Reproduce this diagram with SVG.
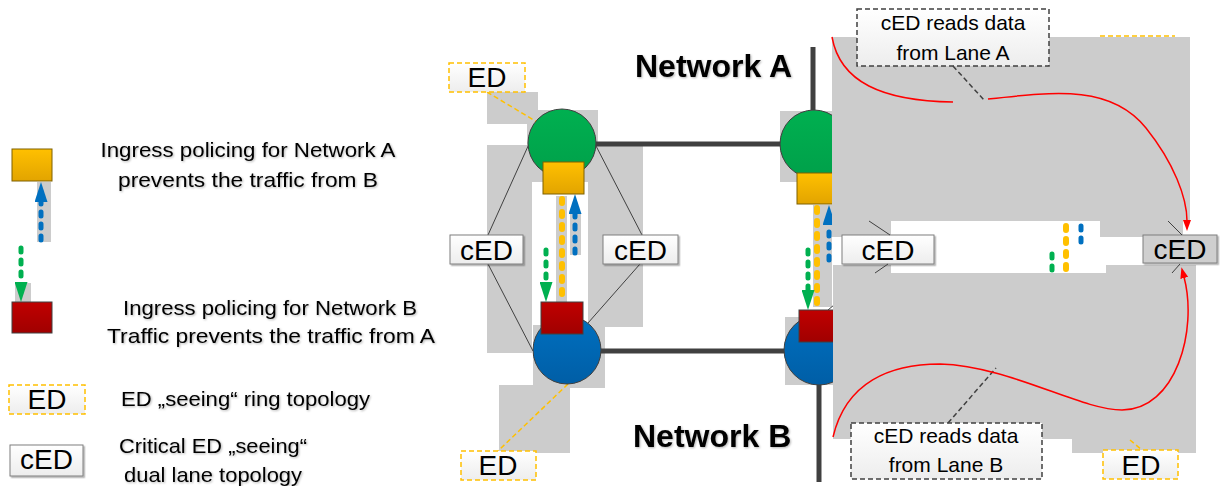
<svg xmlns="http://www.w3.org/2000/svg" width="1221" height="486" viewBox="0 0 1221 486">
<defs>
<linearGradient id="gYellow" x1="0" y1="0" x2="0" y2="1"><stop offset="0" stop-color="#FFC000"/><stop offset="1" stop-color="#E2A400"/></linearGradient>
<linearGradient id="gRed" x1="0" y1="0" x2="0" y2="1"><stop offset="0" stop-color="#C00000"/><stop offset="1" stop-color="#A00000"/></linearGradient>
<linearGradient id="gGreen" x1="0" y1="0" x2="0" y2="1"><stop offset="0" stop-color="#00B050"/><stop offset="1" stop-color="#00A04A"/></linearGradient>
<linearGradient id="gBlue" x1="0" y1="0" x2="0" y2="1"><stop offset="0" stop-color="#0070C0"/><stop offset="1" stop-color="#005EA6"/></linearGradient>
<linearGradient id="gBox" x1="0" y1="0" x2="0" y2="1"><stop offset="0" stop-color="#FFFFFF"/><stop offset="1" stop-color="#EDEDED"/></linearGradient>
<filter id="tshadow" x="-5%" y="-20%" width="110%" height="140%"><feDropShadow dx="1" dy="1" stdDeviation="0.8" flood-color="#000" flood-opacity="0.3"/></filter>
<filter id="bshadow" x="-5%" y="-10%" width="115%" height="130%"><feDropShadow dx="1.5" dy="1.5" stdDeviation="0.6" flood-color="#000" flood-opacity="0.3"/></filter>
<marker id="mBlue" viewBox="0 0 20 13" refX="0" refY="6.5" markerWidth="20" markerHeight="13" markerUnits="userSpaceOnUse" orient="auto"><path d="M0,0 L20,6.5 L0,13 z" fill="#0070C0"/></marker>
<marker id="mGreen" viewBox="0 0 20 13" refX="0" refY="6.5" markerWidth="20" markerHeight="13" markerUnits="userSpaceOnUse" orient="auto"><path d="M0,0 L20,6.5 L0,13 z" fill="#00B050"/></marker>
<marker id="mRed" viewBox="0 0 11 8" refX="1" refY="4" markerWidth="11" markerHeight="8" markerUnits="userSpaceOnUse" orient="auto"><path d="M0,0 L11,4 L0,8 z" fill="#FF0000"/></marker>
<style>
.gray{fill:#CCCCCC}
.thick{stroke:#404040;stroke-width:5;fill:none}
.thin{stroke:#404040;stroke-width:1;fill:none}
.ydot{stroke:#FFC000;stroke-width:6;stroke-linecap:round;stroke-dasharray:4 9;fill:none}
.bdot{stroke:#0070C0;stroke-width:5;stroke-linecap:round;stroke-dasharray:4 8;fill:none}
.gdot{stroke:#00B050;stroke-width:5;stroke-linecap:round;stroke-dasharray:4 8;fill:none}
.edline{stroke:#FFC000;stroke-width:1.5;stroke-dasharray:5 3;fill:none}
.cline{stroke:#404040;stroke-width:1.5;stroke-dasharray:5 3;fill:none}
.red{stroke:#FF0000;stroke-width:1.5;fill:none}
.edbox{fill:url(#gBox);stroke:#FFC000;stroke-width:1.5;stroke-dasharray:5 3}
.cedbox{fill:url(#gBox);stroke:#7F7F7F;stroke-width:1;filter:url(#bshadow)}
.callout{fill:url(#gBox);stroke:#404040;stroke-width:1.5;stroke-dasharray:5 3}
.ysq{fill:url(#gYellow);stroke:#7F6000;stroke-width:1}
.rsq{fill:url(#gRed);stroke:#404040;stroke-width:1}
.gc{fill:url(#gGreen);stroke:#404040;stroke-width:1}
.bc{fill:url(#gBlue);stroke:#404040;stroke-width:1}
text{font-family:"Liberation Sans",Arial,sans-serif;fill:#000}
.lbl{font-size:28px;text-anchor:middle}
.txt{font-size:21px;filter:url(#tshadow)}
.ctr{text-anchor:middle}
.net{font-size:32px;font-weight:bold;filter:url(#tshadow)}
.ctxt{font-size:21px;text-anchor:middle}
</style>
</defs>

<!-- background shadow boxes -->
<g id="shadows">
<rect class="gray" x="37" y="182" width="14" height="60"/>
<rect class="gray" x="15" y="283" width="16" height="20"/>
<rect class="gray" x="487" y="92" width="51" height="32"/>
<rect class="gray" x="527" y="110" width="71" height="72"/>
<rect class="gray" x="487" y="145" width="45" height="208"/>
<rect class="gray" x="588" y="145" width="55" height="182"/>
<rect class="gray" x="533" y="325" width="72" height="63"/>
<rect class="gray" x="499" y="385" width="71" height="68"/>
<rect class="gray" x="556" y="196" width="11" height="106"/>
<rect class="gray" x="570" y="213" width="11" height="42"/>
<rect class="gray" x="780" y="111" width="52" height="71"/>
<rect class="gray" x="813" y="205" width="19" height="102"/>
<rect class="gray" x="785" y="317" width="49" height="68"/>
</g>

<g id="connectors">
<line class="thick" x1="595" y1="144" x2="782" y2="144"/>
<line class="thick" x1="600" y1="351" x2="787" y2="351"/>
<line class="thick" x1="813" y1="47" x2="813" y2="110"/>
<line class="thick" x1="819" y1="383" x2="819" y2="482"/>
<line class="thin" x1="529" y1="144" x2="488" y2="235"/>
<line class="thin" x1="595" y1="144" x2="642" y2="235"/>
<line class="thin" x1="488" y1="264" x2="533" y2="351"/>
<line class="thin" x1="640" y1="264" x2="588" y2="323"/>
<line class="thin" x1="828" y1="310" x2="834" y2="305"/>
<line class="edline" x1="487" y1="92" x2="537" y2="122"/>
<line class="edline" x1="568" y1="384" x2="498" y2="451"/>
<line class="ydot" x1="562" y1="199" x2="562" y2="300"/>
<line class="bdot" x1="575" y1="253" x2="575" y2="214"  marker-end="url(#mBlue)"/>
<line class="gdot" x1="546" y1="250" x2="546" y2="282" marker-end="url(#mGreen)"/>
<line class="ydot" x1="817" y1="208" x2="817" y2="310"/>
<line class="bdot" x1="829" y1="260" x2="829" y2="225" marker-end="url(#mBlue)"/>
<line class="gdot" x1="808" y1="250" x2="808" y2="290" marker-end="url(#mGreen)"/>
<line class="ydot" x1="1066" y1="226" x2="1066" y2="272"/>
<line class="bdot" x1="1081" y1="226" x2="1081" y2="250"/>
<line class="gdot" x1="1052" y1="254" x2="1052" y2="272"/>
<line class="bdot" x1="41" y1="240" x2="41" y2="202" marker-end="url(#mBlue)"/>
<line class="gdot" x1="21" y1="248" x2="21" y2="282" marker-end="url(#mGreen)"/>
</g>

<!-- legend -->
<g id="legend-ingressA">
<rect class="ysq" x="12" y="149" width="40" height="32"/>
<text class="txt ctr" x="248" y="157" textLength="295" lengthAdjust="spacingAndGlyphs">Ingress policing for Network A</text>
<text class="txt ctr" x="248" y="187" textLength="260" lengthAdjust="spacingAndGlyphs">prevents the traffic from B</text>
</g>
<g id="legend-ingressB">
<rect class="rsq" x="12" y="302" width="40" height="31"/>
<text class="txt ctr" x="270" y="315" textLength="294" lengthAdjust="spacingAndGlyphs">Ingress policing for Network B</text>
<text class="txt ctr" x="271" y="343" textLength="328" lengthAdjust="spacingAndGlyphs">Traffic prevents the traffic from A</text>
</g>
<g id="legend-ed">
<rect class="edbox" x="9" y="385" width="76" height="29"/>
<text class="lbl" x="47" y="409">ED</text>
<text class="txt" x="121" y="406" textLength="249" lengthAdjust="spacingAndGlyphs">ED „seeing“ ring topology</text>
</g>
<g id="legend-ced">
<rect class="cedbox" x="10" y="445" width="73" height="31"/>
<text class="lbl" x="46.5" y="469">cED</text>
<text class="txt ctr" x="213" y="453" textLength="188" lengthAdjust="spacingAndGlyphs">Critical ED „seeing“</text>
<text class="txt ctr" x="213" y="482" textLength="178" lengthAdjust="spacingAndGlyphs">dual lane topology</text>
</g>

<!-- left ring -->
<g id="switchA1"><circle class="gc" cx="562" cy="143" r="34"/><rect class="ysq" x="543" y="162" width="41" height="32"/></g>
<g id="switchB1"><circle class="bc" cx="567" cy="350" r="34"/><rect class="rsq" x="541" y="302" width="42" height="32"/></g>
<g id="ed-top"><rect class="edbox" x="449" y="63" width="76" height="29"/><text class="lbl" x="487" y="87">ED</text></g>
<g id="ed-bottom"><rect class="edbox" x="461" y="451" width="75" height="29"/><text class="lbl" x="498" y="475">ED</text></g>
<g id="ced-left"><rect class="cedbox" x="450" y="235" width="73" height="29"/><text class="lbl" x="486.5" y="260">cED</text></g>
<g id="ced-mid"><rect class="cedbox" x="603" y="235" width="75" height="29"/><text class="lbl" x="640.5" y="260">cED</text></g>

<!-- right part -->
<g id="switchA2"><circle class="gc" cx="814" cy="144" r="34"/><rect class="ysq" x="797" y="173" width="41" height="31"/></g>
<g id="switchB2"><circle class="bc" cx="819" cy="350" r="35"/><rect class="rsq" x="799" y="310" width="42" height="32"/></g>
<g id="net-a"><text class="net" x="635" y="77">Network A</text></g>
<g id="net-b"><text class="net" x="633" y="447">Network B</text></g>
<g id="ed-hidden"><line class="edline" x1="1100" y1="36" x2="1175" y2="36"/></g>

<!-- overlay gray areas -->
<g id="overlay">
<rect class="gray" x="832" y="37" width="358" height="184"/>
<rect class="gray" x="832" y="221" width="59" height="16"/>
<rect class="gray" x="1100" y="221" width="83" height="16"/>
<rect class="gray" x="833" y="273" width="363" height="166"/>
<rect class="gray" x="833" y="265" width="58" height="8"/>
<rect class="gray" x="1106" y="265" width="90" height="8"/>
<rect class="gray" x="1072" y="439" width="124" height="14"/>
</g>

<g id="ced-right-mid"><rect class="cedbox" x="842" y="235" width="92" height="29"/><text class="lbl" x="888" y="260">cED</text></g>
<g id="ced-right"><rect class="cedbox" x="1143" y="235" width="74" height="28" style="fill:#CFCFCF"/><text class="lbl" x="1180" y="259">cED</text></g>
<g id="ed-right"><rect class="edbox" x="1103" y="450" width="75" height="29"/><text class="lbl" x="1141" y="475">ED</text></g>
<g id="callout-a"><rect class="callout" x="857" y="9" width="192" height="57"/><text class="ctxt" x="953" y="30">cED reads data</text><text class="ctxt" x="953" y="60">from Lane A</text></g>
<g id="callout-b"><rect class="callout" x="851" y="423" width="191" height="56"/><text class="ctxt" x="946" y="443">cED reads data</text><text class="ctxt" x="946" y="472">from Lane B</text></g>

<g id="connectors-overlay">
<line class="thin" x1="869" y1="221" x2="890" y2="235"/>
<line class="thin" x1="1168" y1="221" x2="1182" y2="235"/>
<line class="thin" x1="875" y1="273" x2="888" y2="264"/>
<line class="thin" x1="1172" y1="273" x2="1180" y2="264"/>
<line class="edline" x1="1130" y1="440" x2="1142" y2="450"/>
<line class="cline" x1="953" y1="66" x2="984" y2="100"/>
<line class="cline" x1="948" y1="423" x2="996" y2="368"/>
<path class="red" d="M832,37 C840,82 882,101 953,102"/>
<path class="red" d="M988,99 C1060,91 1112,86 1146,128 C1174,163 1187,198 1187,221" marker-end="url(#mRed)"/>
<path class="red" d="M833,437 C846,382 890,364 940,364 C1010,366 1080,410 1122,410 C1176,410 1198,330 1184,277" marker-end="url(#mRed)"/>
</g>
</svg>
